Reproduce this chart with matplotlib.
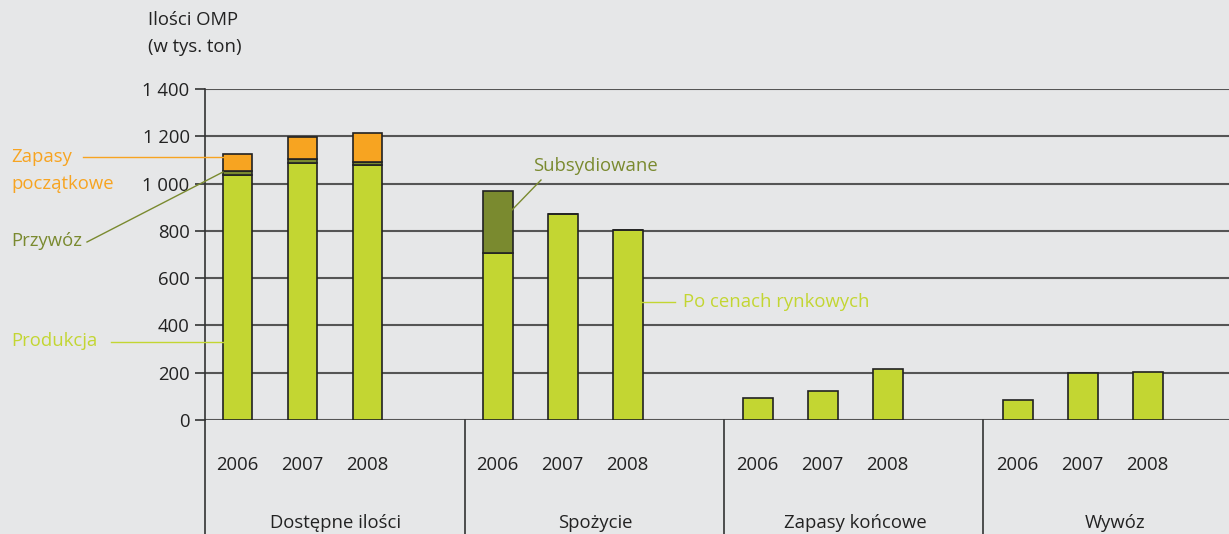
import matplotlib.pyplot as plt
import numpy as np

plt.rcParams['font.family'] = ['Open Sans', 'DejaVu Sans']

# data (tys. ton)
groups = ['Dostępne ilości', 'Spożycie', 'Zapasy końcowe', 'Wywóz']
years = ['2006', '2007', '2008']

produkcja = [1036, 1087, 1079]
przywoz = [17, 17, 12]
zapasy_pocz = [72, 93, 123]

rynkowe = [706, 871, 804]
subsydiowane = [263, 0, 0]

zapasy_konc = [95, 124, 214]
wywoz = [83, 197, 203]

light = '#c3d632'
olive = '#7a8a2f'
orange = '#f7a421'
bg = '#e6e7e8'
fs = 13.3

fig = plt.figure(figsize=(12.29, 5.34), dpi=100, facecolor=bg)
ax = fig.add_axes([205 / 1229, 114 / 534, 1024 / 1229, 331 / 534])
ax.set_facecolor(bg)

w = 0.46
x = np.arange(3) + 0.5
kw = dict(width=w, edgecolor='#222222', linewidth=1.2, zorder=3)

# group 1: stacked
ax.bar(x, produkcja, color=light, **kw)
ax.bar(x, przywoz, bottom=produkcja, color=olive, **kw)
b2 = np.array(produkcja) + np.array(przywoz)
ax.bar(x, zapasy_pocz, bottom=b2, color=orange, **kw)

# group 2
ax.bar(x + 4, rynkowe, color=light, **kw)
ax.bar(x + 4, subsydiowane, bottom=rynkowe, color=olive, **kw)

# groups 3 and 4
ax.bar(x + 8, zapasy_konc, color=light, **kw)
ax.bar(x + 12, wywoz, color=light, **kw)

ax.set_xlim(0, 15.75)
ax.set_ylim(0, 1400)
ticks = np.arange(0, 1401, 200)
ax.set_yticks(ticks)
ax.set_yticklabels([f'{t:,}'.replace(',', ' ') for t in ticks], fontsize=fs, color='#222222')
ax.set_xticks([])
for t in ticks:
    ax.axhline(t, color='#555555', lw=1.5, zorder=1)
ax.tick_params(axis='y', length=7, width=1.2, color='#333333', pad=4)
for s in ['top', 'right', 'bottom']:
    ax.spines[s].set_visible(False)
ax.spines['left'].set_color('#333333')
ax.spines['left'].set_linewidth(1.2)

# labels below the axis
def fx(px):
    return px / 1229

def fy(py):
    return 1 - py / 534

unit = 1024 / 15.75
for g in range(4):
    for i, yr in enumerate(years):
        xp = 205 + (4 * g + i + 0.5) * unit
        fig.text(fx(xp), fy(465), yr, ha='center', va='center', fontsize=fs, color='#222222')
    fig.text(fx(205 + (4 * g + 2) * unit), fy(523), groups[g], ha='center', va='center',
             fontsize=fs, color='#222222')
for xp in [205, 465, 724, 983]:
    fig.add_artist(plt.Line2D([fx(xp), fx(xp)], [fy(420), 0], color='#333333', lw=1.2))

# axis title
fig.text(fx(148), fy(20), 'Ilości OMP', ha='left', va='center', fontsize=fs, color='#222222')
fig.text(fx(148), fy(47), '(w tys. ton)', ha='left', va='center', fontsize=fs, color='#222222')

# annotations
fig.text(fx(11), fy(157), 'Zapasy', ha='left', va='center', fontsize=fs, color=orange)
fig.text(fx(11), fy(184), 'początkowe', ha='left', va='center', fontsize=fs, color=orange)
fig.add_artist(plt.Line2D([fx(83), fx(223)], [fy(157), fy(157)], color=orange, lw=1))
fig.text(fx(11), fy(241), 'Przywóz', ha='left', va='center', fontsize=fs, color=olive)
fig.add_artist(plt.Line2D([fx(87), fx(223)], [fy(242), fy(172)], color=olive, lw=1))
fig.text(fx(11), fy(341), 'Produkcja', ha='left', va='center', fontsize=fs, color=light)
fig.add_artist(plt.Line2D([fx(111), fx(223)], [fy(342), fy(342)], color=light, lw=1))
fig.text(fx(533), fy(166), 'Subsydiowane', ha='left', va='center', fontsize=fs, color=olive)
fig.add_artist(plt.Line2D([fx(541), fx(511)], [fy(180), fy(211)], color=olive, lw=1))
fig.text(fx(683), fy(302), 'Po cenach rynkowych', ha='left', va='center', fontsize=fs, color=light)
fig.add_artist(plt.Line2D([fx(641), fx(675)], [fy(302), fy(302)], color=light, lw=1))

fig.savefig('out.png', dpi=100, facecolor=bg)
